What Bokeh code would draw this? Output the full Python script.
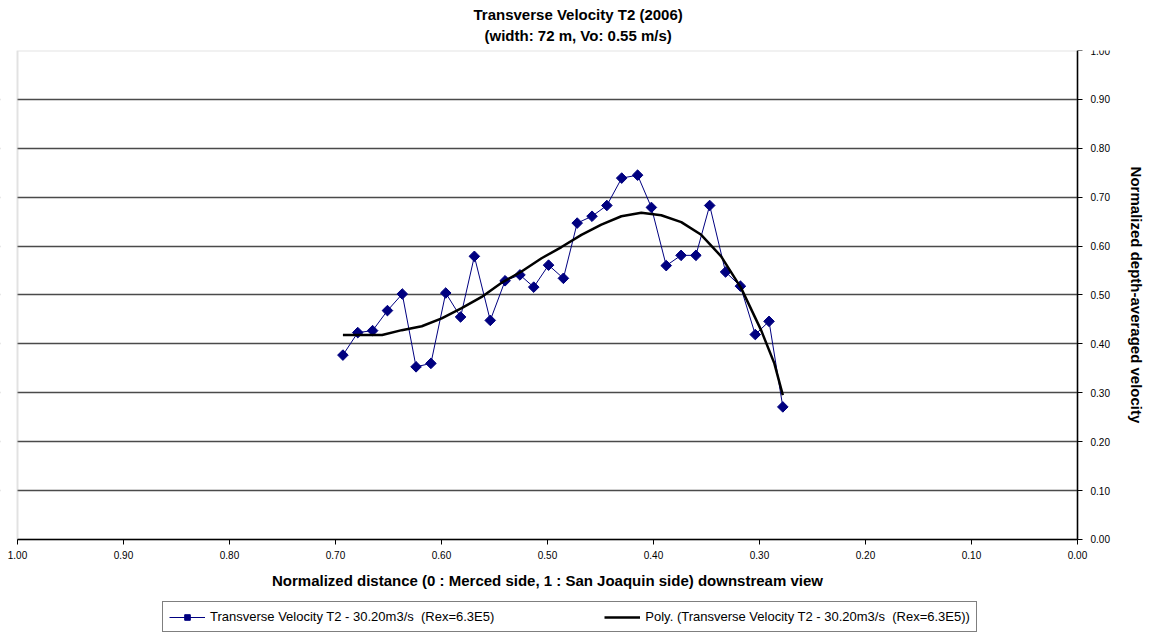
import math
from bokeh.plotting import figure
from bokeh.models import (Range1d, FixedTicker, NumeralTickFormatter, Title,
                          BoxAnnotation, Legend, LegendItem, ColumnDataSource)
from bokeh.embed import file_html
from bokeh.resources import INLINE

# ---- data ----
distance = [0.693, 0.679, 0.665, 0.651, 0.637, 0.624, 0.610, 0.596, 0.582, 0.569,
            0.554, 0.540, 0.526, 0.513, 0.499, 0.485, 0.472, 0.458, 0.444, 0.430,
            0.415, 0.402, 0.388, 0.374, 0.360, 0.347, 0.332, 0.318, 0.304, 0.291,
            0.278]
velocity = [0.377, 0.423, 0.427, 0.468, 0.502, 0.353, 0.360, 0.504, 0.455, 0.579,
            0.448, 0.529, 0.541, 0.516, 0.561, 0.534, 0.647, 0.661, 0.683, 0.739,
            0.745, 0.679, 0.560, 0.581, 0.581, 0.683, 0.547, 0.518, 0.419, 0.446,
            0.271]

trend_x = [0.693, 0.656, 0.6375, 0.6186, 0.5998, 0.5810, 0.5621, 0.5433, 0.5245,
           0.5056, 0.4868, 0.4680, 0.4492, 0.4303, 0.4115, 0.3927, 0.3738, 0.3550,
           0.3362, 0.3173, 0.2985, 0.2860, 0.2780]
trend_y = [0.418, 0.418, 0.428, 0.436, 0.452, 0.473, 0.496, 0.525, 0.548,
           0.575, 0.598, 0.623, 0.644, 0.661, 0.668, 0.663, 0.649, 0.623,
           0.579, 0.514, 0.428, 0.360, 0.295]

tick_values = [0.0, 0.1, 0.2, 0.3, 0.4, 0.5, 0.6, 0.7, 0.8, 0.9, 1.0]

series_label = "Transverse Velocity T2 - 30.20m3/s  (Rex=6.3E5)"
trend_label = "Poly. (Transverse Velocity T2 - 30.20m3/s  (Rex=6.3E5))"
title_1 = "Transverse Velocity T2 (2006)"
title_2 = "(width: 72 m, Vo: 0.55 m/s)"
x_label = "Normalized distance (0 : Merced side, 1 : San Joaquin side) downstream view"
y_label = "Normalized depth-averaged velocity"

FONT = "Liberation Sans"

# The frame covers the whole window below the titles so that the axis texts and the
# legend (which sit outside the 0..1 plot area) are not clipped. Both axes are
# fixed at 0 and bounded to 0..1, so the plot area is the same as in the original.
p = figure(frame_width=1150, frame_height=584, output_backend="svg",
           toolbar_location=None,
           x_range=Range1d(1.016038, -0.068868), y_range=Range1d(-0.1945, 1.0),
           y_axis_location="right",
           min_border_left=0, min_border_right=0, min_border_top=50,
           min_border_bottom=0)

p.outline_line_color = None

# titles (last added = top)
p.title.visible = False
p.add_layout(Title(text=title_2, align="left", offset=484, text_font=FONT,
                   text_font_size="15px", text_font_style="bold",
                   text_color="black", standoff=9, vertical_align="top"), "above")
p.add_layout(Title(text=title_1, align="left", offset=473, text_font=FONT,
                   text_font_size="15px", text_font_style="bold",
                   text_color="black", standoff=0), "above")

# grid
p.xgrid.visible = False
p.ygrid.ticker = FixedTicker(ticks=[0.1, 0.2, 0.3, 0.4, 0.5, 0.6, 0.7, 0.8, 0.9])
p.ygrid.grid_line_color = "#4a4a4a"
p.ygrid.grid_line_width = 1.5

# keep the grid lines inside the plot area, and draw its light border
p.add_layout(BoxAnnotation(left=1.3, right=1.0, fill_color="white", fill_alpha=1.0,
                           line_color=None, level="underlay"))
p.add_layout(BoxAnnotation(left=0.0, right=-0.3, fill_color="white", fill_alpha=1.0,
                           line_color=None, level="underlay"))
p.add_layout(BoxAnnotation(left=1.0, right=0.0, bottom=0.0, top=1.0,
                           fill_alpha=0.0, line_color="#a0a0a0", line_width=2,
                           level="underlay"))

# series
src = ColumnDataSource(dict(x=distance, y=velocity))
r_line = p.line("x", "y", source=src, line_color="#000080", line_width=1)
r_mark = p.scatter("x", "y", source=src, marker="square", angle=math.pi / 4,
                   size=7.5, fill_color="#000080", line_color="#000080")
r_trend = p.line(trend_x, trend_y, line_color="black", line_width=2.5)

# axes
for ax in (p.xaxis[0], p.yaxis[0]):
    ax.ticker = FixedTicker(ticks=tick_values)
    ax.formatter = NumeralTickFormatter(format="0.00")
    ax.bounds = (0.0, 1.0)
    ax.fixed_location = 0.0
    ax.axis_line_color = "black"
    ax.axis_line_width = 1.5
    ax.major_tick_line_color = "black"
    ax.major_tick_in = 0
    ax.major_tick_out = 5
    ax.minor_tick_line_color = None
    ax.major_label_text_font = FONT
    ax.major_label_text_font_size = "10px"
    ax.major_label_text_color = "black"
    ax.axis_label_text_font = FONT
    ax.axis_label_text_font_style = "bold"
    ax.axis_label_text_color = "black"

p.xaxis.axis_label = x_label
p.xaxis.axis_label_text_font_size = "15px"
p.xaxis.major_label_standoff = 7
p.xaxis.axis_label_standoff = 9

p.yaxis.axis_label = y_label
p.yaxis.axis_label_text_font_size = "15px"
p.yaxis.major_label_standoff = 8
p.yaxis.axis_label_standoff = 15
p.yaxis.axis_label_orientation = "vertical"

# legend under the x axis
legend = Legend(items=[LegendItem(label=series_label, renderers=[r_line, r_mark]),
                       LegendItem(label=trend_label, renderers=[r_trend])],
                orientation="horizontal", location=(162, 2),
                label_text_font=FONT, label_text_font_size="13px",
                label_text_color="black", label_height=17,
                glyph_width=36, glyph_height=14, label_standoff=5,
                spacing=110, padding=6, margin=0,
                border_line_color="black", border_line_width=1,
                background_fill_alpha=1.0)
p.add_layout(legend, "center")

open("out.html", "w").write(file_html(p, INLINE))
